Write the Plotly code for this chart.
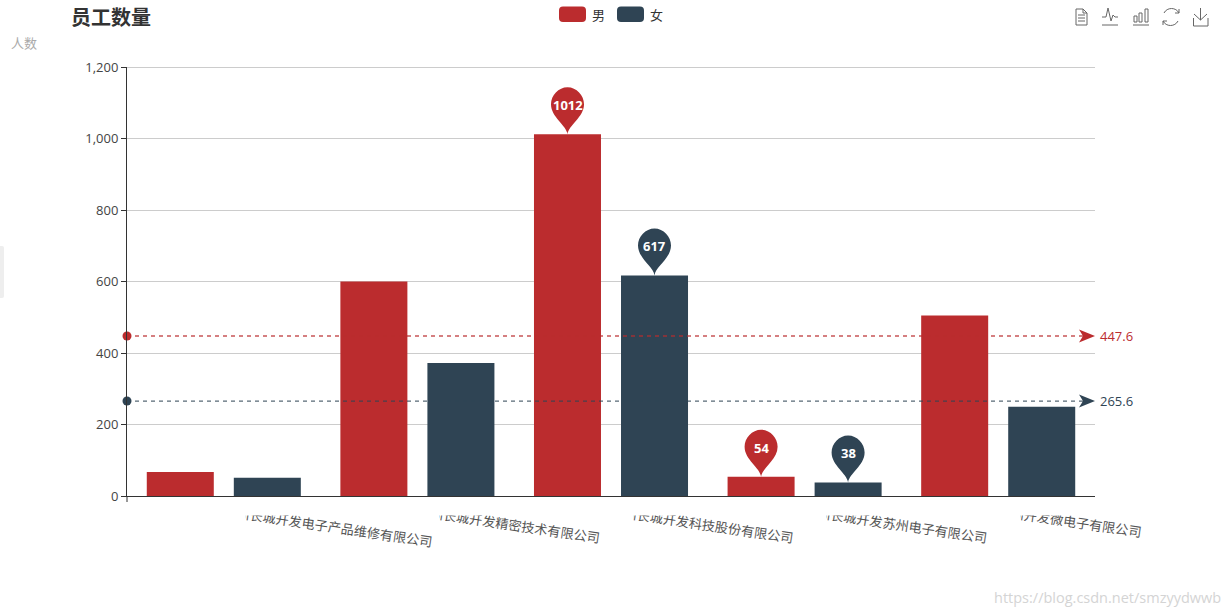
import plotly.graph_objects as go

categories = ["深圳长城开发电子产品维修有限公司", "深圳长城开发精密技术有限公司", "深圳长城开发科技股份有限公司",
              "深圳长城开发苏州电子有限公司", "深圳开发微电子有限公司"]
male = [67, 600, 1012, 54, 505]
female = [51, 372, 617, 38, 250]
male_avg = 447.6
female_avg = 265.6
x_index = [0, 1, 2, 3, 4]
y_ticks = [0, 200, 400, 600, 800, 1000, 1200]
y_labels = ["0", "200", "400", "600", "800", "1,000", "1,200"]
pins = [("m", 2, 1012), ("f", 2, 617), ("m", 3, 54), ("f", 3, 38)]

RED = "#bb2c2e"
NAVY = "#2f4454"
FONT = "Open Sans, Noto Sans CJK SC, sans-serif"
W, H = 1230, 615
L, R, T, B = 127, 135, 67, 119
OFFSET = 0.2247

fig = go.Figure()
fig.add_bar(x=x_index, y=male, name="男", marker=dict(color=RED, line_width=0))
fig.add_bar(x=x_index, y=female, name="女", marker=dict(color=NAVY, line_width=0))
for avg, color in ((male_avg, RED), (female_avg, NAVY)):
    fig.add_scatter(x=[-0.5, 4.5], y=[avg, avg], mode="lines", cliponaxis=False,
                    line=dict(color=color, width=1.3, dash="4px,4px"), opacity=0.8, hoverinfo="skip")
    fig.add_scatter(x=[-0.5], y=[avg], mode="markers", cliponaxis=False,
                    marker=dict(size=9, color=color), hoverinfo="skip")

shapes, annos = [], []


def abs_path(d, **style):
    """Chrome drawn in screen pixels, anchored at the paper's top-left corner."""
    out = []
    for tok in d.split():
        if "," in tok:
            a, b = tok.split(",")
            out.append(f"{float(a) - L},{T - float(b)}")
        else:
            out.append(tok)
    shapes.append(dict(type="path", xref="paper", yref="paper", xsizemode="pixel", ysizemode="pixel",
                       xanchor=0, yanchor=1, path=" ".join(out), layer="above", **style))


# white band that cuts the tops of the rotated axis labels, and the heads of each label
abs_path(f"M {L + 3},498 L 1230,498 L 1230,515.5 L {L + 3},515.5 Z", fillcolor="white", line_width=0)
for i in x_index:
    cx = L + (i + 0.5) * (W - L - R) / 5
    abs_path(f"M {cx - 8},498 L {cx + 22},498 L {cx + 22},523 L {cx - 8},523 Z", fillcolor="white", line_width=0)
abs_path("M 127,496 L 127,502", line=dict(color="#333", width=1))
# top gridline (Plotly drops the one on the range edge)
abs_path("M 127,67.5 L 1095,67.5", line=dict(color="#ccc", width=1))

# pins
PIN = "M 0,0 C -1,9 -16.5,17 -16.5,30 C -16.5,39 -9,47 0,47 C 9,47 16.5,39 16.5,30 C 16.5,17 1,9 0,0 Z"
for series, i, v in pins:
    xpos = i - OFFSET if series == "m" else i + OFFSET
    shapes.append(dict(type="path", xref="x", yref="y", xsizemode="pixel", ysizemode="pixel",
                       xanchor=xpos, yanchor=v, path=PIN, line_width=0, layer="above",
                       fillcolor=RED if series == "m" else NAVY))
    annos.append(dict(x=xpos, y=v, yshift=29, text=f"<b>{v}</b>", showarrow=False,
                      font=dict(color="white", size=13, family=FONT)))

# mark-line arrows and labels
ARROW = "M 0,0 L -16,6.5 L -12,0 L -16,-6.5 Z"
for avg, color in ((male_avg, RED), (female_avg, NAVY)):
    shapes.append(dict(type="path", xref="x", yref="y", xsizemode="pixel", ysizemode="pixel",
                       xanchor=4.5, yanchor=avg, path=ARROW, line_width=0, fillcolor=color, layer="above"))
    annos.append(dict(x=4.5, y=avg, xshift=3, xanchor="left", text=str(avg), showarrow=False,
                      font=dict(color=color, size=13, family=FONT)))

# legend
for x0, color, label in ((559, RED, "男"), (617, NAVY, "女")):
    x1 = x0 + 27
    abs_path(f"M {x0 + 4},6.5 L {x1 - 4},6.5 Q {x1},6.5 {x1},10.5 L {x1},18 Q {x1},22 {x1 - 4},22 "
             f"L {x0 + 4},22 Q {x0},22 {x0},18 L {x0},10.5 Q {x0},6.5 {x0 + 4},6.5 Z",
             fillcolor=color, line_width=0)
    annos.append(dict(xref="paper", yref="paper", x=(x1 + 4 - L) / (W - L - R), y=1 + (T - 15) / (H - T - B),
                      xanchor="left", yanchor="middle", text=label, showarrow=False,
                      font=dict(color="#333", size=13, family=FONT)))

# toolbox
icon = dict(line=dict(color="#666", width=1), fillcolor="rgba(0,0,0,0)")
abs_path("M 1076,9 L 1083,9 L 1087,13 L 1087,25 L 1076,25 Z", **icon)
abs_path("M 1083,9 L 1083,13 L 1087,13", **icon)
abs_path("M 1078,15 L 1085,15 M 1078,18 L 1085,18 M 1078,21 L 1085,21", **icon)
abs_path("M 1102,17 L 1106,17 L 1108,8 L 1111,21 L 1113,15 L 1115,17 L 1118,17 M 1102,25 L 1118,25", **icon)
abs_path("M 1133,25 L 1149,25 M 1134,22 L 1134,16 L 1137,16 L 1137,22 Z M 1139,22 L 1139,13 L 1142,13 L 1142,22 Z "
         "M 1145,22 L 1145,9 L 1148,9 L 1148,22 Z", **icon)
abs_path("M 1164,13 C 1167,7 1176,7 1179,13 M 1179,9 L 1179,13 L 1175,13 "
         "M 1178,21 C 1175,27 1166,27 1163,21 M 1163,25 L 1163,21 L 1167,21", **icon)
abs_path("M 1200.5,8 L 1200.5,20 M 1194,14 L 1200.5,20 L 1207,14 M 1193.5,18 L 1193.5,26 L 1208,26 L 1208,18", **icon)

# left tab
abs_path("M 0,246 L 2,246 Q 4,246 4,248 L 4,296 Q 4,298 2,298 L 0,298 Z", fillcolor="#eeeeee", line_width=0)


def page_text(x, y, text, size, color, anchor="left", bold=False):
    annos.append(dict(xref="paper", yref="paper", x=(x - L) / (W - L - R), y=1 + (T - y) / (H - T - B),
                      xanchor=anchor, yanchor="middle", showarrow=False,
                      text=f"<b>{text}</b>" if bold else text,
                      font=dict(color=color, size=size, family=FONT)))


page_text(69, 17.5, "员工数量", 20, "#333", bold=True)
page_text(9, 43, "人数", 13, "#aaa")
page_text(1223, 597, "https://blog.csdn.net/smzyydwwb", 14.5, "#d4d4d4", anchor="right")

fig.update_layout(
    width=W, height=H, margin=dict(l=L, r=R, t=T, b=B), autosize=False,
    barmode="group", bargap=0.101, bargroupgap=0.23,
    plot_bgcolor="white", paper_bgcolor="white", showlegend=False, hovermode=False,
    font=dict(family=FONT, size=13, color="#333"),
    shapes=shapes, annotations=annos,
    xaxis=dict(range=[-0.5, 4.5], tickmode="array", tickvals=x_index, ticktext=categories,
               tickangle=8.5, ticks="", showgrid=False, zeroline=False, showline=True,
               linecolor="#333", linewidth=1, ticklabelstandoff=3, fixedrange=True,
               tickfont=dict(size=13.2, color="#555")),
    yaxis=dict(range=[0, 1200], tickmode="array", tickvals=y_ticks, ticktext=y_labels,
               ticks="outside", ticklen=5, tickcolor="#333", showline=True, linecolor="#333",
               linewidth=1, gridcolor="#ccc", gridwidth=1, zeroline=False, fixedrange=True,
               tickfont=dict(size=13, color="#444")),
)
fig.write_html("out.html", config={"displayModeBar": False},
               post_script="document.body.style.margin='0';document.body.style.overflow='hidden';")
